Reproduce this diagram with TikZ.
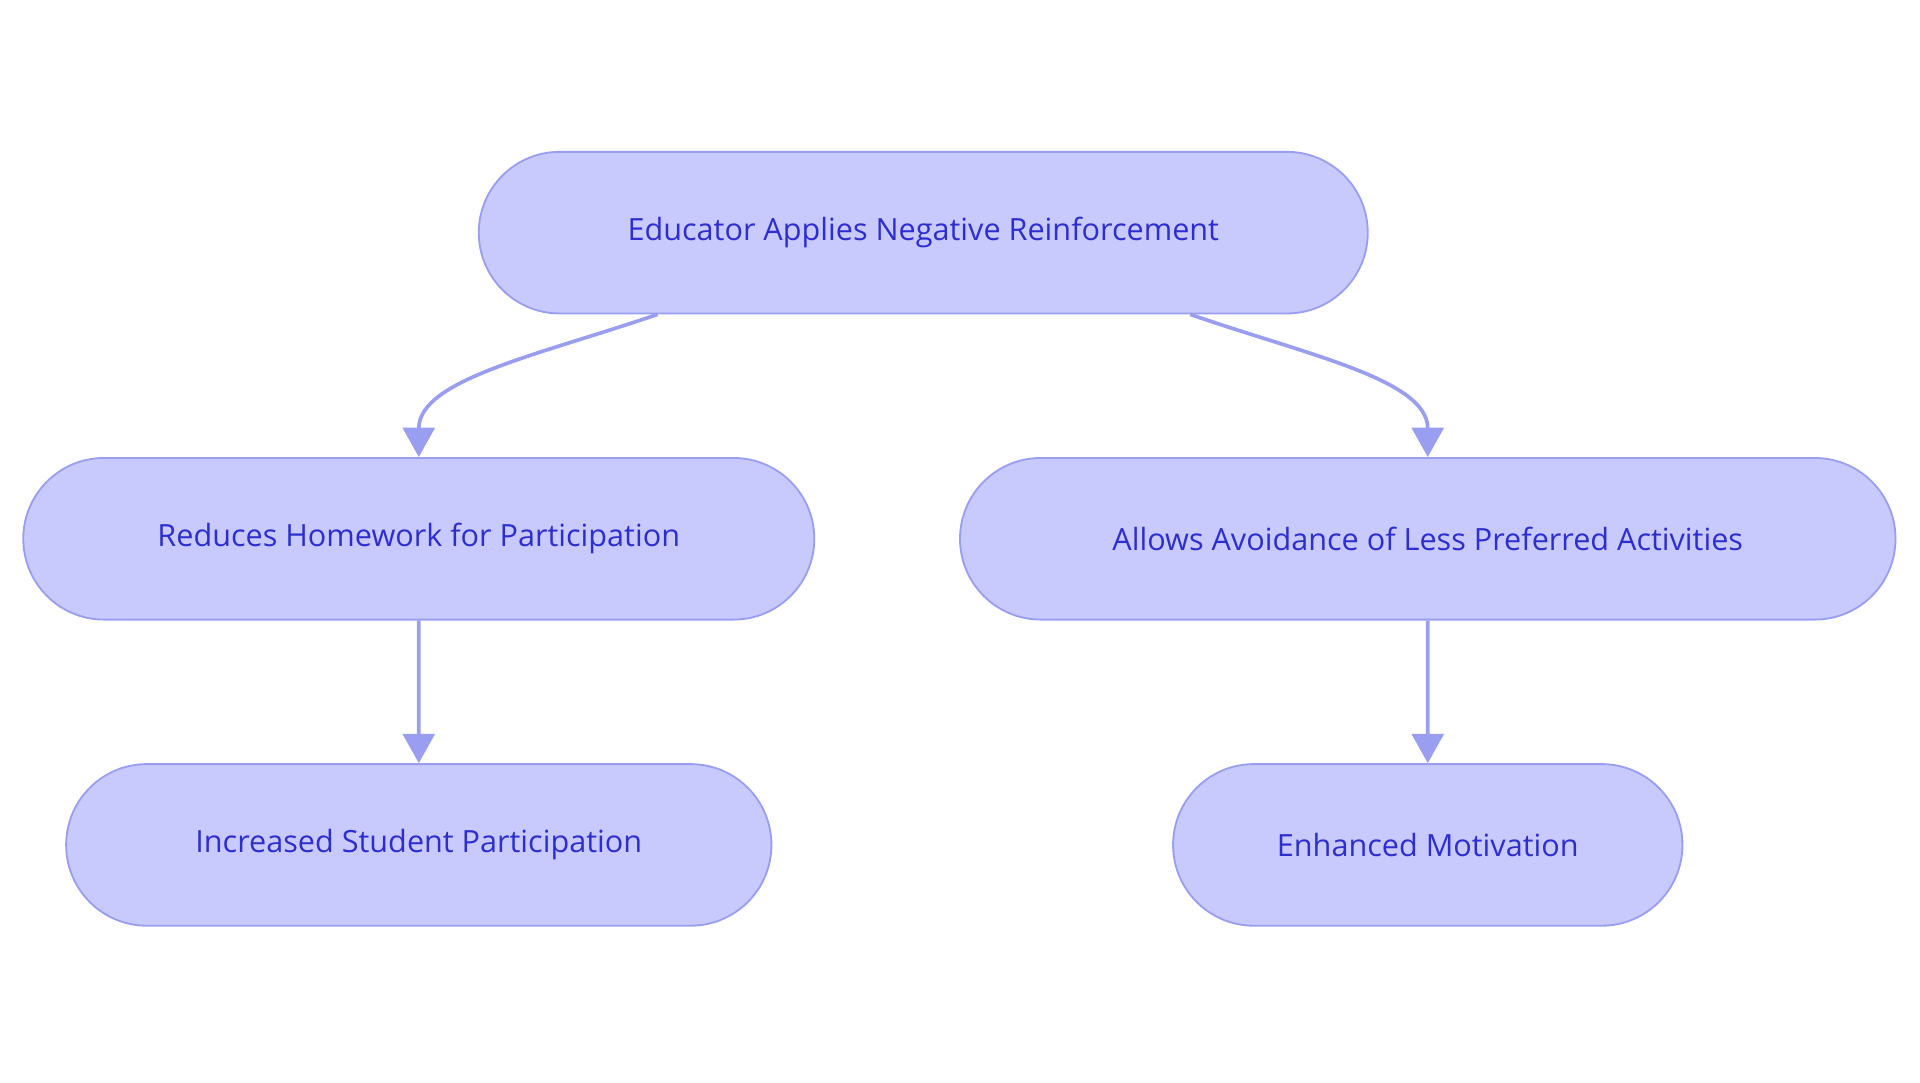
\documentclass[tikz,border=0pt]{standalone}
\usepackage{fontspec}
\setmainfont{Open Sans}
\usetikzlibrary{arrows.meta,positioning,shapes.misc}
\definecolor{boxfill}{HTML}{C8CAFE}
\definecolor{boxline}{HTML}{9A9EF0}
\definecolor{boxtext}{HTML}{2E2ECF}
\tikzset{
  stage/.style={rounded rectangle, draw=boxline, line width=1.5pt, fill=boxfill,
    text=boxtext, font=\fontsize{25}{30}\selectfont, minimum height=132pt, inner sep=0pt},
  link/.style={draw=boxline, line width=3pt, -{Triangle[length=24pt,width=26pt]}}
}
\begin{document}
\begin{tikzpicture}[x=1pt,y=-1pt]
        \useasboundingbox (0,0) rectangle (1568,884);
        % Boxes
        \node[stage, minimum width=726pt] (apply) at (754,190) {Educator Applies Negative Reinforcement};
        \node[stage, minimum width=646pt] (homework) at (342,440) {Reduces Homework for Participation};
        \node[stage, minimum width=764pt] (avoid) at (1166,440) {Allows Avoidance of Less Preferred Activities};
        \node[stage, minimum width=576pt] (participation) at (342,690) {Increased Student Participation};
        \node[stage, minimum width=416pt] (motivation) at (1166,690) {Enhanced Motivation};
        % Arrows
        \draw[link] ([xshift=-217pt]apply.south) .. controls (440,290) and (342,310) .. (homework.north);
        \draw[link] ([xshift=218pt]apply.south) .. controls (1068,290) and (1166,310) .. (avoid.north);
        \draw[link] (homework) -- (participation);
        \draw[link] (avoid) -- (motivation);
    \end{tikzpicture}
\end{document}
